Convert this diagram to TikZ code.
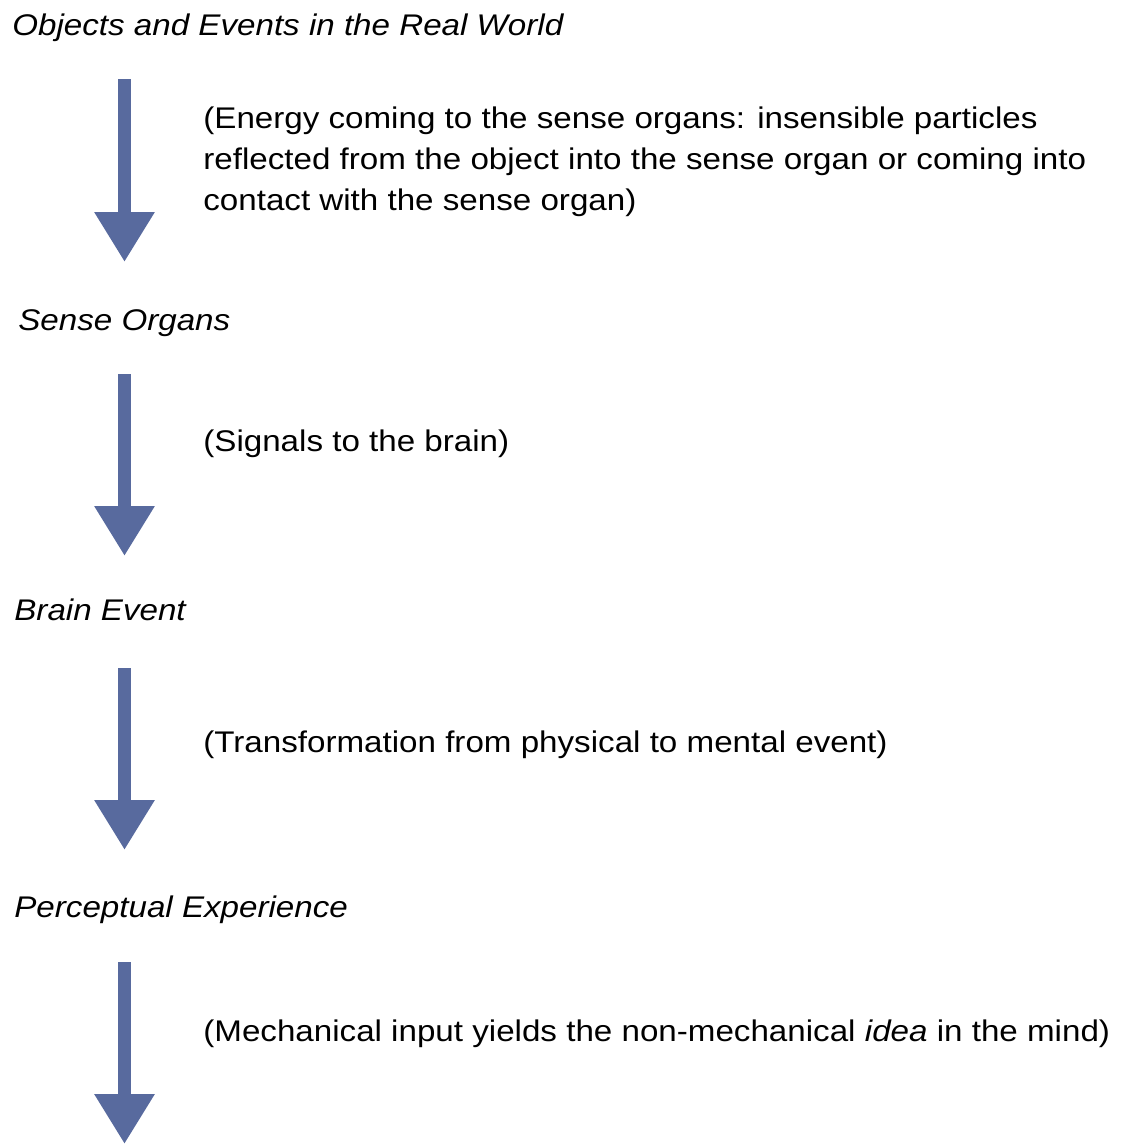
\documentclass[tikz,border=0pt]{standalone}
\usepackage{fontspec}
\setmainfont[FakeStretch=1.11]{Liberation Sans}
\usepackage{tikz}
\definecolor{flowblue}{RGB}{88, 106, 158}
\usetikzlibrary{arrows.meta, positioning}

\begin{document}
\begin{tikzpicture}[
    x=0.02cm, y=-0.02cm,
    stage/.style={anchor=base west, inner sep=0pt, font=\fontsize{17}{23.3}\selectfont\itshape},
    note/.style={anchor=base west, inner sep=0pt, align=left,
                 font=\fontsize{17}{23.3}\selectfont},
    flow/.style={draw=flowblue, line width=0.26cm,
                 -{Triangle[length=1cm, width=1.14cm]}}
]
    \useasboundingbox (0,0) rectangle (1144,1146);

    % Stages
    \node[stage] (objects) at (12,35) {Objects and Events in the Real World};
    \node[stage] (organs) at (18,330) {Sense Organs};
    \node[stage] (brain) at (14,620) {Brain Event};
    \node[stage] (percept) at (14,917) {Perceptual Experience};

    % Notes (base = last line)
    \node[note] (energy) at (203,210) {(Energy coming to the sense organs: insensible particles\\reflected from the object into the sense organ or coming into\\contact with the sense organ)};
    \node[note] (signals) at (203,451) {(Signals to the brain)};
    \node[note] (transform) at (203,752) {(Transformation from physical to mental event)};
    \node[note] (idea) at (203,1041) {(Mechanical input yields the non-mechanical \textit{idea} in the mind)};

    % Arrow ends
    \coordinate (a1s) at (124.5,79);
    \coordinate (a1e) at (124.5,262);
    \coordinate (a2s) at (124.5,374);
    \coordinate (a2e) at (124.5,556);
    \coordinate (a3s) at (124.5,668);
    \coordinate (a3e) at (124.5,850);
    \coordinate (a4s) at (124.5,962);
    \coordinate (a4e) at (124.5,1144);

    % Arrows
    \draw[flow] (a1s) -- (a1e);
    \draw[flow] (a2s) -- (a2e);
    \draw[flow] (a3s) -- (a3e);
    \draw[flow] (a4s) -- (a4e);
\end{tikzpicture}
\end{document}
